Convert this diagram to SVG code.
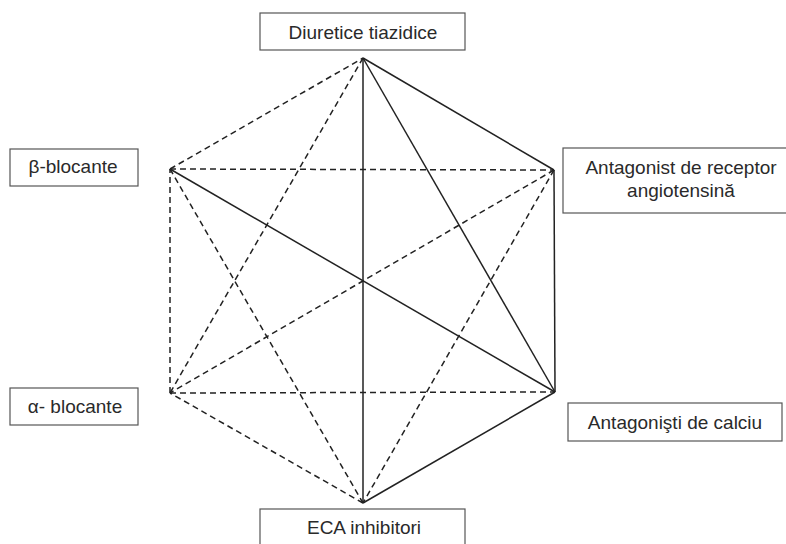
<svg xmlns="http://www.w3.org/2000/svg" width="786" height="544" viewBox="0 0 786 544">
<style>
.box{fill:#fff;stroke:#555;stroke-width:1.2}
.t{font-family:"Liberation Sans",Arial,sans-serif;font-size:19px;fill:#2a2a2a;text-anchor:middle}
.s{stroke:#222;stroke-width:1.5;fill:none}
.d{stroke:#222;stroke-width:1.5;fill:none;stroke-dasharray:6 4}
</style>
<rect width="786" height="544" fill="#fff"/>
<g id="connectors">
<line class="s" x1="363" y1="58" x2="554" y2="170"/>
<line class="s" x1="554" y1="170" x2="555" y2="392"/>
<line class="s" x1="555" y1="392" x2="363" y2="503"/>
<line class="d" x1="363" y1="503" x2="170" y2="393"/>
<line class="d" x1="170" y1="393" x2="170" y2="169"/>
<line class="d" x1="170" y1="169" x2="363" y2="58"/>
<line class="s" x1="363" y1="58" x2="363" y2="503"/>
<line class="s" x1="363" y1="58" x2="555" y2="392"/>
<line class="d" x1="363" y1="58" x2="170" y2="393"/>
<line class="d" x1="170" y1="169" x2="554" y2="170"/>
<line class="s" x1="170" y1="169" x2="555" y2="392"/>
<line class="d" x1="170" y1="169" x2="363" y2="503"/>
<line class="d" x1="554" y1="170" x2="170" y2="393"/>
<line class="d" x1="554" y1="170" x2="363" y2="503"/>
<line class="d" x1="170" y1="393" x2="555" y2="392"/>
</g>
<g id="diuretice"><rect class="box" x="260" y="13" width="205" height="37"/><text class="t" x="363" y="39">Diuretice tiazidice</text></g>
<g id="beta"><rect class="box" x="10" y="149" width="128" height="37"/><text class="t" x="73" y="173">β-blocante</text></g>
<g id="ara"><rect class="box" x="563" y="148" width="224" height="65"/><text class="t" x="681" y="174">Antagonist de receptor</text><text class="t" x="681" y="197">angiotensină</text></g>
<g id="alpha"><rect class="box" x="10" y="388" width="128" height="37"/><text class="t" x="75" y="413">α- blocante</text></g>
<g id="calciu"><rect class="box" x="568" y="403" width="214" height="38"/><text class="t" x="675" y="429">Antagonişti de calciu</text></g>
<g id="eca"><rect class="box" x="260" y="509" width="205" height="40"/><text class="t" x="364" y="534">ECA inhibitori</text></g>
</svg>
